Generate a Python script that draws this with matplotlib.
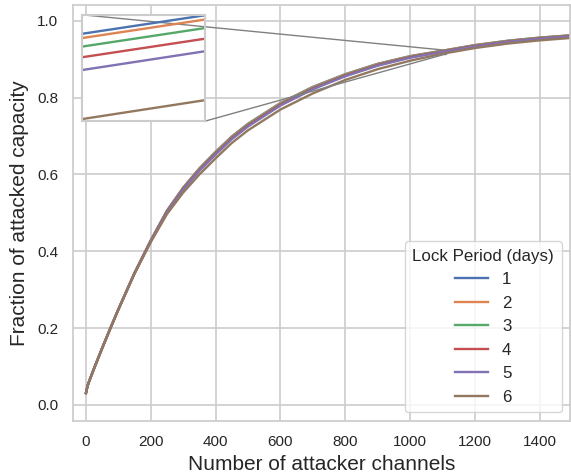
import matplotlib
matplotlib.use("Agg")
import matplotlib.pyplot as plt
from mpl_toolkits.axes_grid1.inset_locator import mark_inset

plt.rcParams['font.family'] = ['Liberation Sans', 'DejaVu Sans']

x_channels = [0, 5, 10, 25, 50, 75, 100, 150, 200, 250, 300, 350, 400, 450, 500,
              600, 700, 800, 900, 1000, 1100, 1200, 1300, 1400, 1500]

lock_periods = ["1", "2", "3", "4", "5", "6"]

frac_1 = [0.031, 0.050, 0.062, 0.095, 0.148, 0.199, 0.2490, 0.3440, 0.4285, 0.5060, 0.5660,
          0.6160, 0.6590, 0.6990, 0.7320, 0.7860, 0.8280, 0.8610, 0.8880, 0.9080, 0.9222,
          0.9367, 0.9479, 0.9562, 0.9625]
frac_2 = [0.031, 0.050, 0.062, 0.095, 0.148, 0.199, 0.2490, 0.3439, 0.4282, 0.5055, 0.5653,
          0.6152, 0.6581, 0.6981, 0.7312, 0.7852, 0.8272, 0.8603, 0.8874, 0.9075, 0.9218,
          0.9363, 0.9475, 0.9558, 0.9622]
frac_3 = [0.031, 0.050, 0.062, 0.095, 0.148, 0.199, 0.2489, 0.3437, 0.4278, 0.5046, 0.5640,
          0.6136, 0.6564, 0.6964, 0.7295, 0.7836, 0.8257, 0.8590, 0.8862, 0.9064, 0.9210,
          0.9355, 0.9468, 0.9551, 0.9615]
frac_4 = [0.031, 0.050, 0.062, 0.095, 0.148, 0.199, 0.2487, 0.3434, 0.4272, 0.5034, 0.5622,
          0.6116, 0.6542, 0.6942, 0.7273, 0.7816, 0.8238, 0.8573, 0.8847, 0.9051, 0.9200,
          0.9345, 0.9458, 0.9542, 0.9605]
frac_5 = [0.031, 0.050, 0.062, 0.095, 0.148, 0.199, 0.2486, 0.3432, 0.4266, 0.5020, 0.5604,
          0.6094, 0.6518, 0.6918, 0.7249, 0.7794, 0.8218, 0.8555, 0.8831, 0.9037, 0.9188,
          0.9335, 0.9448, 0.9532, 0.9596]
frac_6 = [0.031, 0.050, 0.062, 0.095, 0.148, 0.199, 0.2480, 0.3420, 0.4240, 0.4970, 0.5530,
          0.6000, 0.6420, 0.6820, 0.7150, 0.7690, 0.8110, 0.8460, 0.8740, 0.8960, 0.9142,
          0.9290, 0.9405, 0.9490, 0.9555]

series = [frac_1, frac_2, frac_3, frac_4, frac_5, frac_6]
colors = ["#4c72b0", "#dd8452", "#55a868", "#c44e52", "#8172b3", "#937860"]

x_ticks = [0, 200, 400, 600, 800, 1000, 1200, 1400]
y_ticks = [0.0, 0.2, 0.4, 0.6, 0.8, 1.0]

W, H = 571, 475
fig = plt.figure(figsize=(W / 100, H / 100), dpi=100)
ax = fig.add_axes([73 / W, 1 - 420.7 / H, 497 / W, 415.7 / H])

grid_c = "#cccccc"
text_c = "#262626"
for s, c, lab in zip(series, colors, lock_periods):
    ax.plot(x_channels, s, color=c, lw=1.7, label=lab)

ax.set_xlim(-40, 1493)
ax.set_ylim(-0.041, 1.041)
ax.set_xticks(x_ticks)
ax.set_yticks(y_ticks)
ax.set_yticklabels([f"{v:.1f}" for v in y_ticks])
ax.grid(True, color=grid_c, lw=1.2)
ax.set_axisbelow(True)
for sp in ax.spines.values():
    sp.set_color(grid_c)
    sp.set_linewidth(1.25)
ax.tick_params(axis='both', length=0, labelsize=11, pad=10.5, labelcolor=text_c)
ax.set_xlabel("Number of attacker channels", fontsize=15, color=text_c, labelpad=4)
ax.set_ylabel("Fraction of attacked capacity", fontsize=15, color=text_c, labelpad=6)

leg = ax.legend(title="Lock Period (days)", loc="lower right", fontsize=12.2,
                title_fontsize=12.2, frameon=True, fancybox=True,
                handlelength=2.0, labelspacing=0.5, borderpad=0.45)
leg.get_frame().set_edgecolor(grid_c)
leg.get_frame().set_linewidth(1.0)
for t in leg.get_texts():
    t.set_color(text_c)
leg.get_title().set_color(text_c)

# inset
axins = ax.inset_axes([(81.5 - 73) / 497, 1 - (121.3 - 5) / 415.7, 123 / 497, 106.6 / 415.7])
for s, c in zip(series, colors):
    axins.plot(x_channels, s, color=c, lw=1.7)
axins.set_xlim(1100, 1112)
axins.set_ylim(0.914, 0.924)
axins.set_xticks([])
axins.set_yticks([])
for sp in axins.spines.values():
    sp.set_color(grid_c)
    sp.set_linewidth(1.5)
mark_inset(ax, axins, loc1=2, loc2=4, fc="none", ec="0.5", lw=1.0)

fig.savefig("out.png", dpi=100)
